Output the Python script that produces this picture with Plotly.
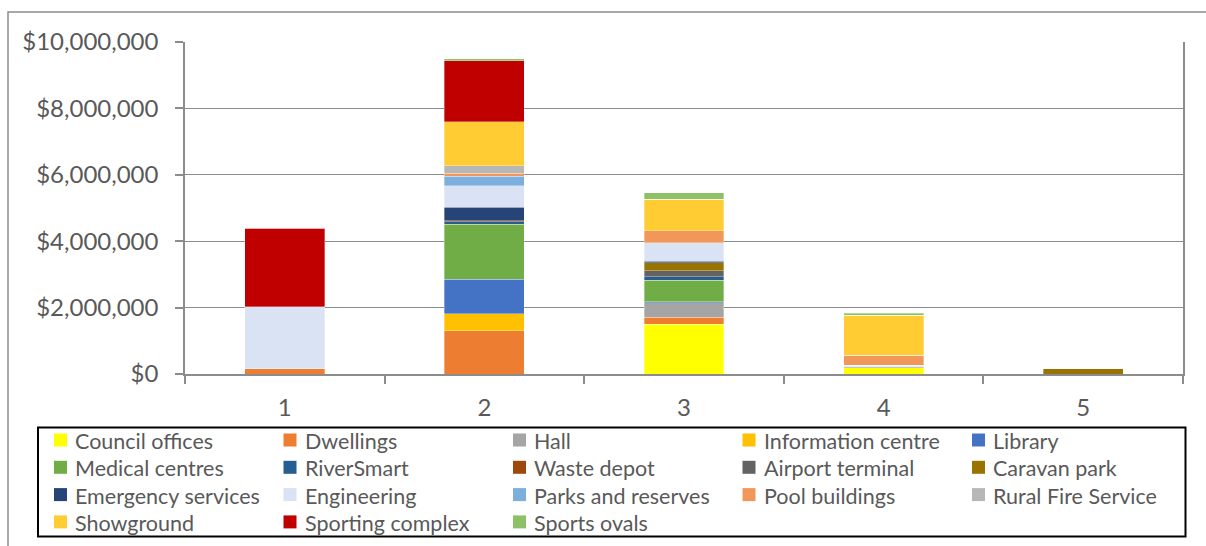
import plotly.graph_objects as go

# Stage categories along the x axis
stages = ["1", "2", "3", "4", "5"]

# Asset classes (stack order, bottom to top) and their fill colours
assets = [
    "Council offices", "Dwellings", "Hall", "Information centre", "Library",
    "Medical centres", "RiverSmart", "Waste depot", "Airport terminal", "Caravan park",
    "Emergency services", "Engineering", "Parks and reserves", "Pool buildings",
    "Rural Fire Service", "Showground", "Sporting complex", "Sports ovals",
]
colors = [
    "#FFFF00", "#ED7D31", "#A5A5A5", "#FFC000", "#4472C4",
    "#70AD47", "#255E91", "#9E480E", "#636363", "#997300",
    "#264478", "#DAE3F3", "#7CAFDD", "#F1975A",
    "#B7B7B7", "#FFCD33", "#C00000", "#8CC168",
]

# Cost per asset class for each stage ($)
council_offices = [0, 0, 1_500_000, 190_000, 0]
dwellings = [160_000, 1_300_000, 210_000, 0, 0]
hall = [0, 0, 440_000, 30_000, 0]
information_centre = [0, 520_000, 0, 0, 0]
library = [0, 1_030_000, 20_000, 0, 0]
medical_centres = [0, 1_660_000, 660_000, 0, 0]
riversmart = [0, 70_000, 100_000, 0, 0]
waste_depot = [0, 30_000, 0, 0, 0]
airport_terminal = [0, 0, 180_000, 0, 0]
caravan_park = [0, 0, 240_000, 0, 170_000]
emergency_services = [0, 410_000, 50_000, 0, 0]
engineering = [1_870_000, 650_000, 550_000, 40_000, 0]
parks_and_reserves = [0, 280_000, 0, 0, 0]
pool_buildings = [0, 100_000, 360_000, 310_000, 0]
rural_fire_service = [0, 230_000, 0, 0, 0]
showground = [0, 1_320_000, 960_000, 1_200_000, 0]
sporting_complex = [2_360_000, 1_830_000, 0, 0, 0]
sports_ovals = [0, 70_000, 190_000, 60_000, 0]

series = [
    council_offices, dwellings, hall, information_centre, library,
    medical_centres, riversmart, waste_depot, airport_terminal, caravan_park,
    emergency_services, engineering, parks_and_reserves, pool_buildings,
    rural_fire_service, showground, sporting_complex, sports_ovals,
]

# Plot-area geometry in pixels (used to place the outer frame and legend)
W, H = 1206, 546
L, R, T, B = 185, 23, 42, 172
pw, ph = W - L - R, H - T - B


def px_x(x):
    return (x - L) / pw


def px_y(y):
    return (H - B - y) / ph


grey_text = "#595959"
axis_grey = "#8C8C8C"
font_family = "Lato, 'Open Sans', sans-serif"

fig = go.Figure()
for name, vals, col in zip(assets, series, colors):
    fig.add_trace(go.Bar(
        x=stages, y=vals, name=name, showlegend=False,
        marker=dict(color=col, line=dict(color="rgba(255,255,255,0.55)", width=0.6)),
    ))

shapes = [
    # outer chart frame (runs past the right and bottom edges)
    dict(type="rect", xref="paper", yref="paper",
         x0=px_x(8), y0=px_y(12), x1=px_x(1214), y1=px_y(554),
         line=dict(color=axis_grey, width=1.5), fillcolor="rgba(0,0,0,0)",
         layer="below"),
    # legend box
    dict(type="rect", xref="paper", yref="paper",
         x0=px_x(38), y0=px_y(427.5), x1=px_x(1185.5), y1=px_y(536.5),
         line=dict(color="#000000", width=2), fillcolor="rgba(0,0,0,0)",
         layer="above"),
]
annotations = []

# Legend grid: five columns, one entry per asset class
col_step, row_step = 229.5, 27.3
sw_x0, txt_x0, row_y0, sw = 54, 73, 440, 13
for i, (name, col) in enumerate(zip(assets, colors)):
    c, r = i % 5, i // 5
    cx = sw_x0 + c * col_step
    cy = row_y0 + r * row_step
    shapes.append(dict(
        type="rect", xref="paper", yref="paper",
        x0=px_x(cx), x1=px_x(cx + sw),
        y0=px_y(cy - sw / 2), y1=px_y(cy + sw / 2),
        line=dict(width=0), fillcolor=col, layer="above",
    ))
    annotations.append(dict(
        xref="paper", yref="paper", x=px_x(txt_x0 + c * col_step), y=px_y(cy + 1),
        xanchor="left", yanchor="middle", text=name, showarrow=False,
        font=dict(size=21.5, color=grey_text, family=font_family),
    ))

fig.update_layout(
    width=W, height=H,
    margin=dict(l=L, r=R, t=T, b=B, autoexpand=False),
    barmode="stack",
    bargap=0.6,
    plot_bgcolor="white",
    paper_bgcolor="white",
    font=dict(family=font_family, color=grey_text),
    showlegend=False,
    shapes=shapes,
    annotations=annotations,
)

fig.update_yaxes(
    range=[0, 10_000_000], dtick=2_000_000, tickformat="$,",
    showgrid=True, gridcolor=axis_grey, gridwidth=1.3,
    showline=True, linecolor=axis_grey, linewidth=1.5, mirror=True,
    ticks="outside", ticklen=8, tickcolor=axis_grey, tickwidth=1.5,
    zeroline=False, tickfont=dict(size=24, color=grey_text),
    ticklabelstandoff=12,
)
fig.update_xaxes(
    type="category",
    showline=True, linecolor=axis_grey, linewidth=1.5,
    ticks="outside", tickson="boundaries", ticklen=8, tickcolor=axis_grey, tickwidth=1.5,
    showgrid=False, tickfont=dict(size=24, color=grey_text),
    ticklabelstandoff=11,
)

fig.write_html("out.html")
